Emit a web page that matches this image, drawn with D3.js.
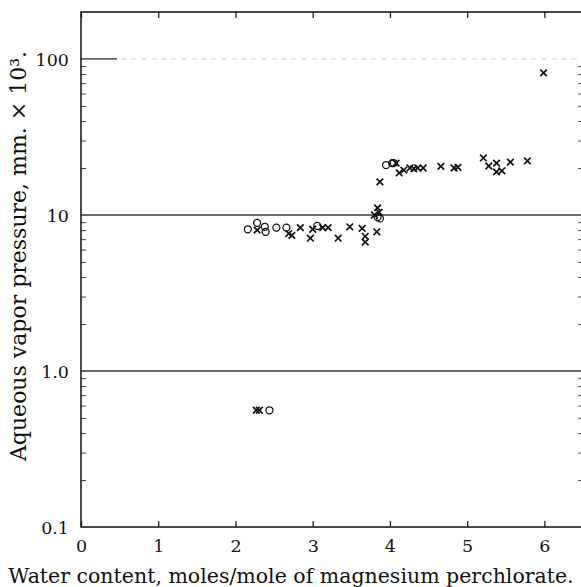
<!DOCTYPE html>
<html>
<head>
<meta charset="utf-8">
<script src="https://cdn.jsdelivr.net/npm/d3@7/dist/d3.min.js"></script>
<style>
  html, body { margin: 0; padding: 0; background: #fff; }
  svg { display: block; }
  text { font-family: "DejaVu Serif", "Liberation Serif", serif; fill: #111; }
</style>
</head>
<body>
<svg id="chart" width="581" height="587"></svg>
<script>
// Water content (moles H2O per mole Mg(ClO4)2) vs aqueous vapor pressure (mm x 10^3)
const xTicks = [0, 1, 2, 3, 4, 5, 6];
const yTickValues = [0.1, 1, 10, 100];
const yTickLabels = ["0.1", "1.0", "10", "100"];

// points drawn as crosses
const crossX = [2.27, 2.31, 2.28, 2.69, 2.73, 2.84, 2.97, 3.00, 3.13, 3.20, 3.33, 3.48, 3.64, 3.68, 3.68,
                3.80, 3.83, 3.84, 3.86, 3.87,
                4.08, 4.12, 4.18, 4.26, 4.31, 4.36, 4.43, 4.66, 4.83, 4.88,
                5.21, 5.28, 5.38, 5.38, 5.45, 5.56, 5.78, 5.99];
const crossY = [0.56, 0.56, 8.0, 7.6, 7.4, 8.3, 7.1, 8.1, 8.3, 8.3, 7.1, 8.4, 8.2, 7.3, 6.7,
                10.0, 7.8, 11.1, 10.4, 16.3,
                21.5, 18.6, 19.4, 20.0, 19.8, 20.0, 20.0, 20.5, 20.0, 20.2,
                23.2, 20.6, 21.5, 18.9, 19.2, 21.8, 22.2, 81.4];

// points drawn as open circles
const circleX = [2.44, 2.16, 2.28, 2.38, 2.39, 2.53, 2.66, 3.06, 3.84, 3.87, 3.95, 4.03, 4.05];
const circleY = [0.56, 8.1, 8.9, 8.4, 7.8, 8.3, 8.3, 8.5, 9.7, 9.5, 20.9, 21.5, 21.5];

const svg = d3.select("#chart");
const plotLeft = 81, plotRight = 583, plotTop = 12, plotBottom = 527;

const x = d3.scaleLinear().domain([0, 6.5]).range([plotLeft, plotRight]);
const y = d3.scaleLog().domain([0.1, 200]).range([plotBottom, plotTop]);

// horizontal rules at the decades
const rules = svg.append("g");
rules.selectAll("line.grid")
  .data([1, 10])
  .join("line")
  .attr("x1", plotLeft).attr("x2", plotRight)
  .attr("y1", d => y(d)).attr("y2", d => y(d))
  .attr("stroke", "#3a3a3a").attr("stroke-width", 1.3);
rules.append("line")
  .attr("x1", plotLeft).attr("x2", plotRight)
  .attr("y1", y(100)).attr("y2", y(100))
  .attr("stroke", "#d8d8d8").attr("stroke-width", 1)
  .attr("stroke-dasharray", "6,4");
rules.append("line")
  .attr("x1", plotLeft).attr("x2", plotLeft + 36)
  .attr("y1", y(100)).attr("y2", y(100))
  .attr("stroke", "#333").attr("stroke-width", 1.3);

// minor log ticks on both vertical sides
const minor = [];
[0.1, 1, 10, 100].forEach(d => {
  for (let k = 2; k <= 9; k++) {
    const v = k * d;
    if (v < 200) minor.push(v);
  }
});

const yAxisL = d3.axisRight(y).tickValues(minor).tickSize(5).tickFormat("");
const gL = svg.append("g").attr("transform", `translate(${plotLeft},0)`).call(yAxisL);
gL.select(".domain").remove();
gL.selectAll(".tick line").attr("stroke", "#444").attr("stroke-width", 1);

const yAxisR = d3.axisLeft(y).tickValues(minor).tickSize(5).tickFormat("");
const gR = svg.append("g").attr("transform", `translate(${plotRight},0)`).call(yAxisR);
gR.select(".domain").remove();
gR.selectAll(".tick line").attr("stroke", "#555").attr("stroke-width", 1);

// y tick labels
const yAxisLabels = d3.axisLeft(y).tickValues(yTickValues).tickSize(0).tickPadding(12)
  .tickFormat((d, i) => yTickLabels[i]);
const gY = svg.append("g").attr("transform", `translate(${plotLeft},0)`).call(yAxisLabels);
gY.select(".domain").remove();
gY.selectAll(".tick text")
  .attr("font-family", "DejaVu Serif").attr("font-size", 17.5).attr("fill", "#111")
  .attr("dy", "0.36em");

// x axis: ticks along the bottom and the top, labels below
const xAxisB = d3.axisTop(x).tickValues(xTicks).tickSize(6).tickFormat("");
const gB = svg.append("g").attr("transform", `translate(0,${plotBottom})`).call(xAxisB);
gB.select(".domain").remove();
gB.selectAll(".tick line").attr("stroke", "#222").attr("stroke-width", 1.3);

const xAxisT = d3.axisBottom(x).tickValues(xTicks).tickSize(6).tickFormat("");
const gT = svg.append("g").attr("transform", `translate(0,${plotTop})`).call(xAxisT);
gT.select(".domain").remove();
gT.selectAll(".tick line").attr("stroke", "#222").attr("stroke-width", 1.3);

const xAxisLabels = d3.axisBottom(x).tickValues(xTicks).tickSize(0).tickPadding(13)
  .tickFormat(d3.format("d"));
const gXL = svg.append("g").attr("transform", `translate(0,${plotBottom})`).call(xAxisLabels);
gXL.select(".domain").remove();
gXL.selectAll(".tick text")
  .attr("font-family", "DejaVu Serif").attr("font-size", 17.5).attr("fill", "#111");

// frame
svg.append("path")
  .attr("d", `M${plotRight},${plotTop}H${plotLeft}V${plotBottom}H${plotRight}`)
  .attr("fill", "none").attr("stroke", "#111").attr("stroke-width", 1.5);

// data marks
const crosses = crossX.map((v, i) => [v, crossY[i]]);
const circles = circleX.map((v, i) => [v, circleY[i]]);
const s = 3.3;

svg.append("g").selectAll("path.cross")
  .data(crosses)
  .join("path")
  .attr("d", d => {
    const cx = x(d[0]), cy = y(d[1]);
    return `M${cx - s},${cy - s}L${cx + s},${cy + s}M${cx - s},${cy + s}L${cx + s},${cy - s}`;
  })
  .attr("stroke", "#111").attr("stroke-width", 1.7).attr("fill", "none");

svg.append("g").selectAll("circle")
  .data(circles)
  .join("circle")
  .attr("cx", d => x(d[0])).attr("cy", d => y(d[1])).attr("r", 3.5)
  .attr("fill", "none").attr("stroke", "#111").attr("stroke-width", 1.25);

// axis titles
svg.append("text")
  .attr("x", 291).attr("y", 583)
  .attr("text-anchor", "middle")
  .attr("font-size", 20.5)
  .text("Water content, moles/mole of magnesium perchlorate.");

svg.append("text")
  .attr("transform", "translate(26,256) rotate(-90)")
  .attr("text-anchor", "middle")
  .attr("font-size", 22)
  .text("Aqueous vapor pressure, mm. × 10³.");
</script>
</body>
</html>
